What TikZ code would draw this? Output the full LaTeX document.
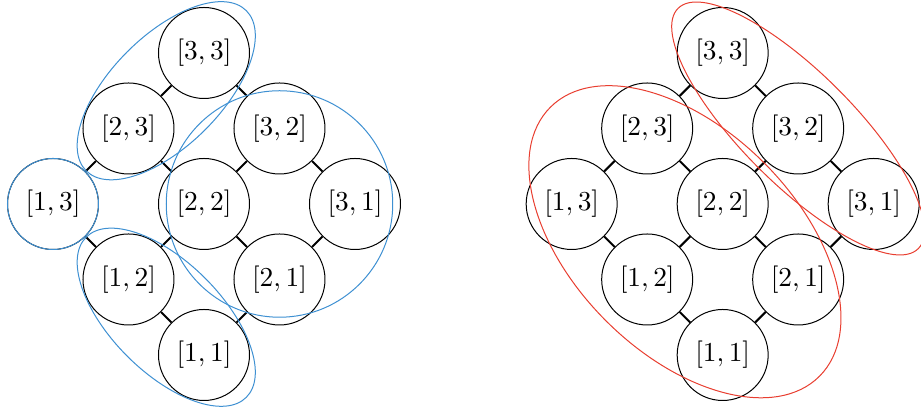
\documentclass[tikz,border=0pt]{standalone}
\definecolor{setblue}{RGB}{62,144,210}
\definecolor{setred}{RGB}{232,62,48}
\usepackage{tikz}
\usetikzlibrary{calc}

\begin{document}
\begin{tikzpicture}[
    x=30.2pt, y=30.2pt,
    state/.style={draw, circle, minimum size=36.4pt, inner sep=0pt,
                  font=\fontsize{11.3}{13}\selectfont},
    link/.style={thick},
    blueset/.style={draw=setblue, thin},
    redset/.style={draw=setred, thin}
  ]
    \useasboundingbox (-2.702,-2.742) rectangle (9.497,2.702);

    % left grid
    \node[state] (a33) at (0, 2) {$[3,3]$};
    \node[state] (a23) at (-1, 1) {$[2,3]$};
    \node[state] (a32) at (1, 1) {$[3,2]$};
    \node[state] (a13) at (-2, 0) {$[1,3]$};
    \node[state] (a22) at (0, 0) {$[2,2]$};
    \node[state] (a31) at (2, 0) {$[3,1]$};
    \node[state] (a12) at (-1, -1) {$[1,2]$};
    \node[state] (a21) at (1, -1) {$[2,1]$};
    \node[state] (a11) at (0, -2) {$[1,1]$};

    \draw[link] (a33) -- (a23);
    \draw[link] (a33) -- (a32);
    \draw[link] (a23) -- (a13);
    \draw[link] (a23) -- (a22);
    \draw[link] (a32) -- (a22);
    \draw[link] (a32) -- (a31);
    \draw[link] (a13) -- (a12);
    \draw[link] (a22) -- (a12);
    \draw[link] (a22) -- (a21);
    \draw[link] (a31) -- (a21);
    \draw[link] (a12) -- (a11);
    \draw[link] (a21) -- (a11);

    % right grid
    \node[state] (b33) at (6.87, 2) {$[3,3]$};
    \node[state] (b23) at (5.87, 1) {$[2,3]$};
    \node[state] (b32) at (7.87, 1) {$[3,2]$};
    \node[state] (b13) at (4.87, 0) {$[1,3]$};
    \node[state] (b22) at (6.87, 0) {$[2,2]$};
    \node[state] (b31) at (8.87, 0) {$[3,1]$};
    \node[state] (b12) at (5.87, -1) {$[1,2]$};
    \node[state] (b21) at (7.87, -1) {$[2,1]$};
    \node[state] (b11) at (6.87, -2) {$[1,1]$};

    \draw[link] (b33) -- (b23);
    \draw[link] (b33) -- (b32);
    \draw[link] (b23) -- (b13);
    \draw[link] (b23) -- (b22);
    \draw[link] (b32) -- (b22);
    \draw[link] (b32) -- (b31);
    \draw[link] (b13) -- (b12);
    \draw[link] (b22) -- (b12);
    \draw[link] (b22) -- (b21);
    \draw[link] (b31) -- (b21);
    \draw[link] (b12) -- (b11);
    \draw[link] (b21) -- (b11);

    % blue sets
    \coordinate (top) at ($(a33)!0.5!(a23)$);
    \coordinate (bot) at ($(a12)!0.5!(a11)$);
    \coordinate (mid) at ($(a22)!0.5!(a31)$);
    \draw[blueset, rotate around={45:(top)}] (top) ellipse [x radius=1.5, y radius=0.73];
    \draw[blueset, rotate around={-45:(bot)}] (bot) ellipse [x radius=1.5, y radius=0.73];
    \draw[blueset] (mid) circle [radius=1.5];
    \draw[blueset] (a13) circle [radius=0.6026];

    % red sets
    \coordinate (diag) at ($(b12)!0.5!(b22)$);
    \draw[redset, rotate around={-45:(b32)}] (b32) ellipse [x radius=2.25, y radius=0.74];
    \draw[redset, rotate around={-45:(diag)}] (diag) ellipse [x radius=2.52, y radius=1.48];
\end{tikzpicture}
\end{document}
